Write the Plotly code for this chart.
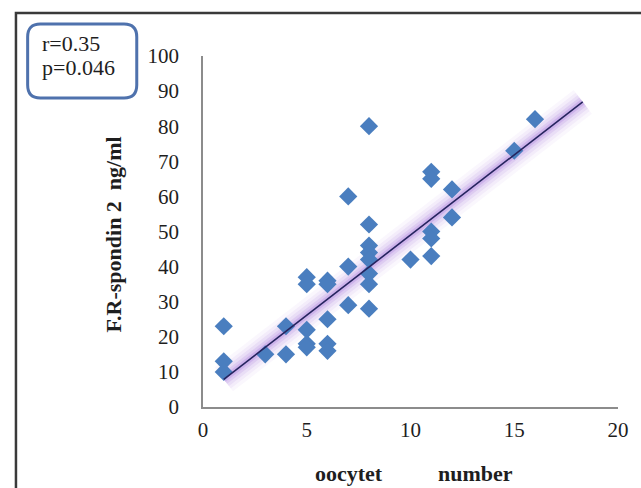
import plotly.graph_objects as go

# data
oocytes = [1, 1, 1, 3, 4, 4, 5, 5, 5, 5, 5, 6, 6, 6, 6, 6, 7, 7, 7,
           8, 8, 8, 8, 8, 8, 8, 8, 10, 11, 11, 11, 11, 11, 12, 12, 15, 16]
spondin = [23, 13, 10, 15, 15, 23, 37, 35, 22, 18, 17, 36, 35, 25, 18, 16, 40, 29, 60,
           80, 52, 46, 44, 42, 38, 35, 28, 42, 67, 65, 50, 48, 43, 62, 54, 73, 82]
trend_x = [1, 18.3]
trend_slope = 4.57
trend_intercept = 3.3
x_ticks = [0, 5, 10, 15, 20]
y_ticks = [0, 10, 20, 30, 40, 50, 60, 70, 80, 90, 100]
stats_lines = ["r=0.35", "p=0.046"]
y_title = "F.R-spondin 2  ng/ml"
x_title_words = ["oocytet", "number"]

ty = [trend_slope * v + trend_intercept for v in trend_x]

W, H = 641, 488
L, R, T, B = 203, 12, 56, 81
pw, ph = W - L - R, H - T - B

def px(x):
    return (x - L) / pw

def py(y):
    return (H - B - y) / ph

serif = "Liberation Serif, Times New Roman, serif"
txt = "#1e1e1e"

fig = go.Figure()
for w, a in [(30, 0.05), (23, 0.07), (17, 0.10), (11, 0.14), (6, 0.22)]:
    fig.add_trace(go.Scatter(x=trend_x, y=ty, mode="lines",
                             line=dict(color=f"rgba(150,95,215,{a})", width=w),
                             hoverinfo="skip", showlegend=False))
fig.add_trace(go.Scatter(x=oocytes, y=spondin, mode="markers",
                         marker=dict(symbol="diamond", size=14, color="#4a7ebf",
                                     line=dict(width=0)),
                         showlegend=False))
fig.add_trace(go.Scatter(x=trend_x, y=ty, mode="lines",
                         line=dict(color="#26245f", width=1.6),
                         hoverinfo="skip", showlegend=False))

# rounded box path in paper coords
x0, y0, x1, y1, r = 23, 24, 135, 98, 13
def P(x, y):
    return f"{px(x):.5f},{py(y):.5f}"
path = (f"M {P(x0 + r, y0)} L {P(x1 - r, y0)} Q {P(x1, y0)} {P(x1, y0 + r)} "
        f"L {P(x1, y1 - r)} Q {P(x1, y1)} {P(x1 - r, y1)} "
        f"L {P(x0 + r, y1)} Q {P(x0, y1)} {P(x0, y1 - r)} "
        f"L {P(x0, y0 + r)} Q {P(x0, y0)} {P(x0 + r, y0)} Z")

annotations = [
    dict(text=stats_lines[0], xref="paper", yref="paper", x=px(36), y=py(43),
         xanchor="left", yanchor="middle", showarrow=False,
         font=dict(family=serif, size=22, color=txt)),
    dict(text=stats_lines[1], xref="paper", yref="paper", x=px(36), y=py(67),
         xanchor="left", yanchor="middle", showarrow=False,
         font=dict(family=serif, size=22, color=txt)),
    dict(text=f"<b>{y_title}</b>", xref="paper", yref="paper",
         x=px(111), y=py(234), textangle=-90, showarrow=False,
         xanchor="center", yanchor="middle",
         font=dict(family=serif, size=22, color=txt)),
    dict(text=f"<b>{x_title_words[0]}</b>", xref="paper", yref="paper",
         x=px(353), y=py(473), showarrow=False,
         xanchor="center", yanchor="middle",
         font=dict(family=serif, size=22, color=txt)),
    dict(text=f"<b>{x_title_words[1]}</b>", xref="paper", yref="paper",
         x=px(483), y=py(473), showarrow=False,
         xanchor="center", yanchor="middle",
         font=dict(family=serif, size=22, color=txt)),
]

fig.update_layout(
    width=W, height=H,
    margin=dict(l=L, r=R, t=T, b=B),
    paper_bgcolor="white", plot_bgcolor="white",
    font=dict(family=serif, size=21, color=txt),
    xaxis=dict(range=[0, 20], tickvals=x_ticks, showgrid=False, zeroline=False,
               showline=True, linecolor="#8c8c8c", linewidth=1.5, ticks="",
               tickfont=dict(size=21), ticklabelstandoff=3),
    yaxis=dict(range=[0, 100], tickvals=y_ticks, showgrid=False, zeroline=False,
               showline=True, linecolor="#8c8c8c", linewidth=1.5, ticks="",
               tickfont=dict(size=21), ticklabelstandoff=18),
    shapes=[
        dict(type="rect", xref="paper", yref="paper",
             x0=px(11), y0=py(500), x1=px(660), y1=py(13),
             line=dict(color="#3a3a3a", width=2.5), fillcolor="rgba(0,0,0,0)"),
        dict(type="path", xref="paper", yref="paper", path=path,
             line=dict(color="#4f72ad", width=3)),
    ],
    annotations=annotations,
)
fig.write_html("out.html",
               config={"displayModeBar": False},
               post_script="document.body.style.margin='0';"
                           "document.body.style.overflow='hidden';")
